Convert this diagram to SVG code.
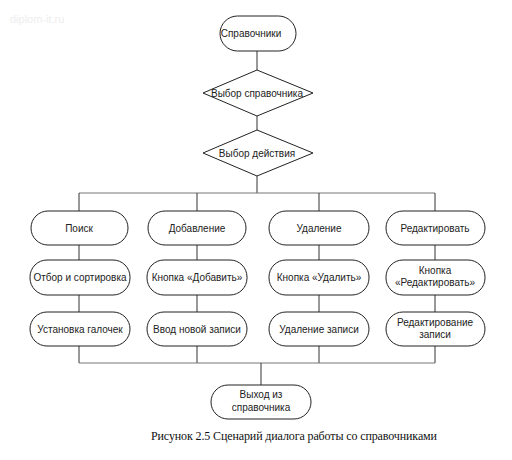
<svg xmlns="http://www.w3.org/2000/svg" width="512" height="460" viewBox="0 0 512 460">
<style>
.n{fill:#fff;stroke:#222;stroke-width:1}
.t{font-family:"Liberation Sans",Arial,sans-serif;font-size:10px;fill:#222;text-anchor:middle}
.c{stroke:#333;stroke-width:1;fill:none}
.b{stroke:#777;stroke-width:1;fill:none}
</style>
<rect width="512" height="460" fill="#fff"/>
<text x="10" y="23" style="font-family:'Liberation Sans',sans-serif;font-size:11px;fill:#eeeeee">diplom-it.ru</text>
<g id="connectors">
<path class="c" d="M257,51V70M257,116V130M257,176V193"/>
<path class="b" d="M79,193H435"/>
<path class="c" d="M79,193V211M197,193V211M319,193V211M435,193V211"/>
<path class="c" d="M79,245V260M197,245V260M319,245V260M435,245V260"/>
<path class="c" d="M79,295V312M197,295V312M319,295V312M435,295V312"/>
<path class="c" d="M79,346V363M197,346V363M319,346V363M435,346V363"/>
<path class="b" d="M79,363H435"/>
<path class="c" d="M261,363V385"/>
</g>
<g id="start"><rect class="n" x="220" y="16" width="76" height="35" rx="17.5"/><text class="t" x="251" y="37">Справочники</text></g>
<g id="choose-ref"><polygon class="n" points="257,70 313,93 257,116 203,93"/><text class="t" x="257" y="97">Выбор справочника</text></g>
<g id="choose-action"><polygon class="n" points="257,130 313,153 257,176 203,153"/><text class="t" x="257" y="157">Выбор действия</text></g>
<g id="search"><rect class="n" x="31" y="211" width="97" height="34" rx="17"/><text class="t" x="79" y="232">Поиск</text></g>
<g id="add"><rect class="n" x="148" y="211" width="98" height="34" rx="17"/><text class="t" x="197" y="232">Добавление</text></g>
<g id="delete"><rect class="n" x="269" y="211" width="100" height="34" rx="17"/><text class="t" x="319" y="232">Удаление</text></g>
<g id="edit"><rect class="n" x="386" y="211" width="99" height="34" rx="17"/><text class="t" x="435" y="232">Редактировать</text></g>
<g id="filter"><rect class="n" x="30" y="260" width="100" height="35" rx="17"/><text class="t" x="80" y="281">Отбор и сортировка</text></g>
<g id="btn-add"><rect class="n" x="147" y="260" width="100" height="35" rx="17"/><text class="t" x="197" y="281">Кнопка «Добавить»</text></g>
<g id="btn-del"><rect class="n" x="269" y="260" width="100" height="35" rx="17"/><text class="t" x="319" y="281">Кнопка «Удалить»</text></g>
<g id="btn-edit"><rect class="n" x="386" y="260" width="99" height="35" rx="17"/><text class="t" x="435" y="274">Кнопка</text><text class="t" x="435" y="286">«Редактировать»</text></g>
<g id="checks"><rect class="n" x="30" y="312" width="100" height="34" rx="17"/><text class="t" x="80" y="333">Установка галочек</text></g>
<g id="new-rec"><rect class="n" x="147" y="312" width="100" height="34" rx="17"/><text class="t" x="197" y="333">Ввод новой записи</text></g>
<g id="del-rec"><rect class="n" x="269" y="312" width="100" height="34" rx="17"/><text class="t" x="319" y="333">Удаление записи</text></g>
<g id="edit-rec"><rect class="n" x="386" y="312" width="99" height="34" rx="17"/><text class="t" x="435" y="326">Редактирование</text><text class="t" x="435" y="338">записи</text></g>
<g id="exit"><rect class="n" x="211" y="385" width="100" height="34" rx="17"/><text class="t" x="261" y="398">Выход из</text><text class="t" x="261" y="411">справочника</text></g>
<text x="151" y="440" style="font-family:'Liberation Serif','Times New Roman',serif;font-size:12px;fill:#111" textLength="286">Рисунок 2.5 Сценарий диалога работы со справочниками</text>
</svg>
